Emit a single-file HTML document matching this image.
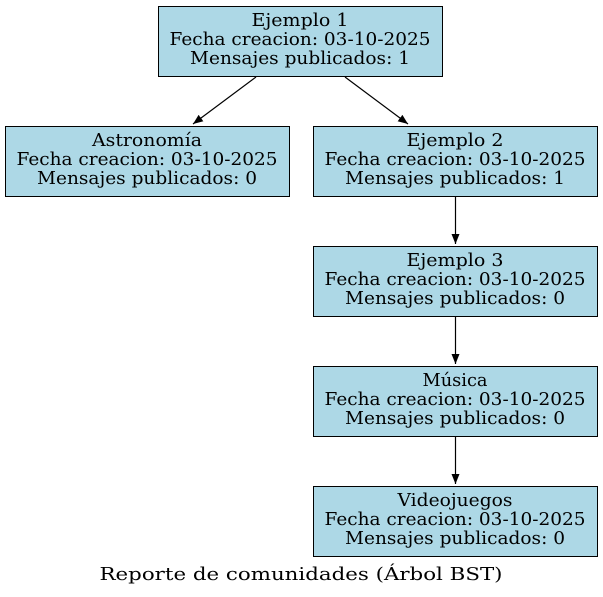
<!DOCTYPE html>
<html><head><meta charset="utf-8"><style>html,body{margin:0;padding:0;background:#fff}svg{display:block}</style></head>
<body>
<svg width="603" height="597" viewBox="0 0 603 597" xmlns="http://www.w3.org/2000/svg" font-family="'DejaVu Serif','Liberation Serif',serif" font-size="18" text-anchor="middle" fill="#000" lengthAdjust="spacingAndGlyphs">
<defs><marker id="a" markerWidth="10" markerHeight="8" refX="10" refY="4" orient="auto" markerUnits="userSpaceOnUse"><path d="M0,0 L10,4 L0,8 z" fill="#000"/></marker></defs>
<g stroke="#000" stroke-width="1" fill="#add8e6">
<rect x="158.5" y="6.5" width="284" height="70"/>
<rect x="5.5" y="126.5" width="284" height="70"/>
<rect x="313.5" y="126.5" width="284" height="70"/>
<rect x="313.5" y="246.5" width="284" height="70"/>
<rect x="313.5" y="366.5" width="284" height="70"/>
<rect x="313.5" y="486.5" width="284" height="70"/>
</g>
<g stroke="#000" stroke-width="1.2" fill="none">
<line x1="256" y1="77" x2="193" y2="124" marker-end="url(#a)"/>
<line x1="345" y1="77" x2="408" y2="124" marker-end="url(#a)"/>
<line x1="455.5" y1="197" x2="455.5" y2="244" marker-end="url(#a)"/>
<line x1="455.5" y1="317" x2="455.5" y2="364" marker-end="url(#a)"/>
<line x1="455.5" y1="437" x2="455.5" y2="484" marker-end="url(#a)"/>
</g>
<g>
<text x="300" y="26" textLength="97" lengthAdjust="spacingAndGlyphs">Ejemplo 1</text><text x="300" y="45" textLength="261" lengthAdjust="spacingAndGlyphs">Fecha creacion: 03-10-2025</text><text x="300" y="64" textLength="220" lengthAdjust="spacingAndGlyphs">Mensajes publicados: 1</text>
<text x="147" y="146" textLength="110" lengthAdjust="spacingAndGlyphs">Astronomía</text><text x="147" y="165" textLength="261" lengthAdjust="spacingAndGlyphs">Fecha creacion: 03-10-2025</text><text x="147" y="184" textLength="220" lengthAdjust="spacingAndGlyphs">Mensajes publicados: 0</text>
<text x="455" y="146" textLength="97" lengthAdjust="spacingAndGlyphs">Ejemplo 2</text><text x="455" y="165" textLength="261" lengthAdjust="spacingAndGlyphs">Fecha creacion: 03-10-2025</text><text x="455" y="184" textLength="220" lengthAdjust="spacingAndGlyphs">Mensajes publicados: 1</text>
<text x="455" y="266" textLength="97" lengthAdjust="spacingAndGlyphs">Ejemplo 3</text><text x="455" y="285" textLength="261" lengthAdjust="spacingAndGlyphs">Fecha creacion: 03-10-2025</text><text x="455" y="304" textLength="220" lengthAdjust="spacingAndGlyphs">Mensajes publicados: 0</text>
<text x="455" y="386" textLength="65" lengthAdjust="spacingAndGlyphs">Música</text><text x="455" y="405" textLength="261" lengthAdjust="spacingAndGlyphs">Fecha creacion: 03-10-2025</text><text x="455" y="424" textLength="220" lengthAdjust="spacingAndGlyphs">Mensajes publicados: 0</text>
<text x="455" y="506" textLength="115" lengthAdjust="spacingAndGlyphs">Videojuegos</text><text x="455" y="525" textLength="261" lengthAdjust="spacingAndGlyphs">Fecha creacion: 03-10-2025</text><text x="455" y="544" textLength="220" lengthAdjust="spacingAndGlyphs">Mensajes publicados: 0</text>
<text x="301" y="580" textLength="403" lengthAdjust="spacingAndGlyphs">Reporte de comunidades (Árbol BST)</text>
</g>
</svg>
</body></html>
